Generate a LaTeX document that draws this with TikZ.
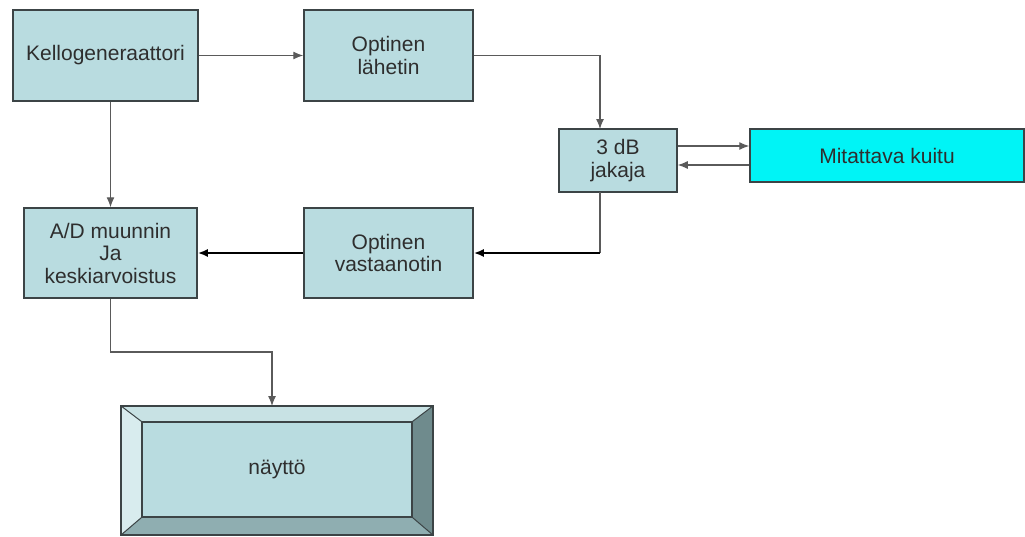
\documentclass[tikz,border=0pt]{standalone}
\usepackage{fontspec}
\setmainfont{Liberation Sans}
\usetikzlibrary{arrows.meta}
\definecolor{boxfill}{HTML}{B9DCE0}
\definecolor{boxline}{HTML}{3C4446}
\definecolor{fibre}{HTML}{00F4F6}
\definecolor{wire}{HTML}{5A5A5A}
\definecolor{txt}{HTML}{2E2E2E}
\definecolor{bevtop}{HTML}{C8E2E4}
\definecolor{bevleft}{HTML}{D8ECEE}
\definecolor{bevright}{HTML}{6F8B8D}
\definecolor{bevbottom}{HTML}{8FAEB1}
\tikzset{
  block/.style={draw=boxline, line width=1.5pt, fill=boxfill, text=txt,
    align=center, inner sep=0pt, font=\fontsize{21}{22.5}\selectfont},
  wireline/.style={draw=wire, line width=1.2pt},
  heavy/.style={draw=black, line width=2pt},
  tip/.style={-{Latex[length=10pt,width=8pt]}}
}
\begin{document}
\begin{tikzpicture}[x=1pt,y=-1pt]
\useasboundingbox (0,0) rectangle (1025,536);

% blocks
\node[block, minimum width=185pt, minimum height=91pt] (kel) at (105.5,55.5) {Kellogeneraattori};
\node[block, minimum width=169pt, minimum height=91pt] (lah) at (388.5,55.5) {Optinen\\lähetin};
\node[block, minimum width=118pt, minimum height=63pt] (jak) at (618,160.5) {3 dB\\jakaja};
\node[block, fill=fibre, minimum width=274pt, minimum height=53pt] (kui) at (887,155.5) {Mitattava kuitu};
\node[block, minimum width=169pt, minimum height=90pt] (vas) at (388.5,253) {Optinen\\vastaanotin};
\node[block, minimum width=173pt, minimum height=90pt] (ad) at (110.5,253) {A/D muunnin\\Ja\\keskiarvoistus};

% bevelled display
\node[draw=none, minimum width=312pt, minimum height=129pt, inner sep=0pt] (nay) at (277,470.5) {};
\fill[bevtop] (nay.north west) -- (nay.north east) -- (412,422) -- (142,422) -- cycle;
\fill[bevleft] (nay.north west) -- (142,422) -- (142,517) -- (nay.south west) -- cycle;
\fill[bevright] (nay.north east) -- (nay.south east) -- (412,517) -- (412,422) -- cycle;
\fill[bevbottom] (nay.south west) -- (142,517) -- (412,517) -- (nay.south east) -- cycle;
\node[draw=boxline, line width=1.2pt, fill=boxfill, minimum width=270pt, minimum height=95pt,
  inner sep=0pt, text=txt, font=\fontsize{21}{22.5}\selectfont] (nayin) at (277,469.5) {näyttö};
\draw[boxline, line width=1pt] (nay.north west) -- (nayin.north west)
  (nay.north east) -- (nayin.north east)
  (nay.south west) -- (nayin.south west)
  (nay.south east) -- (nayin.south east);
\draw[boxline, line width=1.5pt] (nay.north west) rectangle (nay.south east);

% connectors
\draw[wireline, tip] (kel.east) -- (lah.west);
\coordinate (jin) at (600,129);
\draw[wireline, tip] (lah.east) -| (jin);
\draw[wireline, tip] ([yshift=14.5pt]jak.east) -- ([yshift=9.5pt]kui.west);
\draw[wireline, tip] ([yshift=-9.5pt]kui.west) -- ([yshift=-4.5pt]jak.east);
\coordinate (jout) at (600,192);
\coordinate (jcorner) at (600,253);
\draw[wireline] (jout) -- (jcorner);
\draw[heavy, tip] (jcorner) -- (vas.east);
\draw[heavy, tip] (vas.west) -- (ad.east);
\draw[wireline, tip] (ad.north |- kel.south) -- (ad.north);
\coordinate (nin) at (272,406);
\draw[wireline, tip] (ad.south) |- (272,352) -- (nin);
\end{tikzpicture}
\end{document}
